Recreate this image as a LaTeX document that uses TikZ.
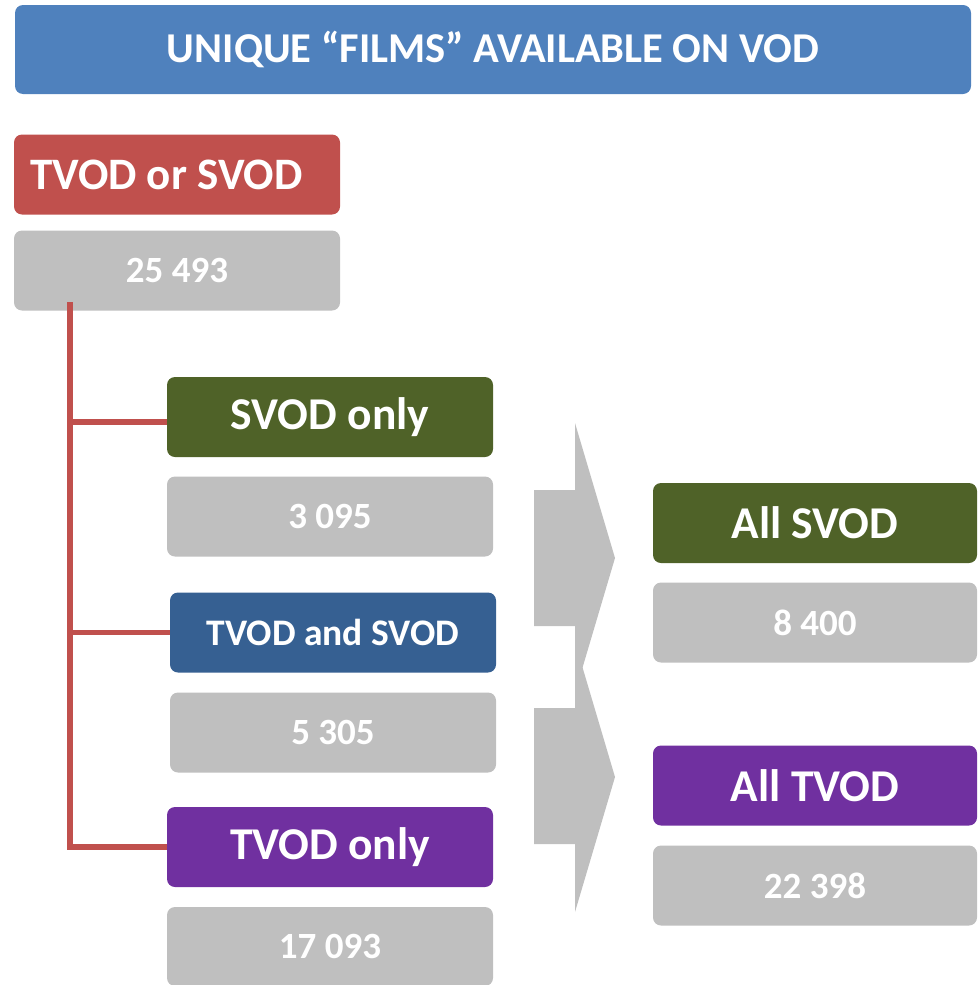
\documentclass[tikz,border=0pt]{standalone}
\usepackage{fontspec}
\setmainfont{Carlito}
\definecolor{titleblue}{HTML}{4F81BD}
\definecolor{boxred}{HTML}{C0504D}
\definecolor{boxgreen}{HTML}{4F6228}
\definecolor{boxblue}{HTML}{366092}
\definecolor{boxpurple}{HTML}{7030A0}
\definecolor{boxgray}{HTML}{BFBFBF}
\tikzset{
  box/.style={rounded corners=8pt, inner sep=0pt, minimum width=326pt, minimum height=80pt, text=white, font=\bfseries},
  numbox/.style={box, fill=boxgray, font=\bfseries\fontsize{37}{44}\selectfont},
  bigtxt/.style={font=\bfseries\fontsize{45.5}{54}\selectfont},
  redline/.style={draw=boxred, line width=5.5pt},
  arrowshape/.style={fill=boxgray}
}
\begin{document}
\begin{tikzpicture}[x=1pt,y=-1pt]
\useasboundingbox (0,0) rectangle (977,985);
% title
\node[box, fill=titleblue, minimum width=956pt, minimum height=89pt, font=\bfseries\fontsize{42.5}{50}\selectfont] (title) at (493,49.5) {UNIQUE “FILMS” AVAILABLE ON VOD};
% left column
\node[box, fill=boxred, font=\bfseries\fontsize{45}{54}\selectfont, text width=294pt, inner xsep=16pt, align=flush left] (any) at (177,174.5) {TVOD or SVOD};
\node[numbox] (anyn) at (177,270.5) {25 493};
\node[box, fill=boxgreen, bigtxt] (svodonly) at (330,417) {SVOD only};
\node[numbox] (svodonlyn) at (330,516.5) {3 095};
\node[box, fill=boxblue, font=\bfseries\fontsize{37.5}{44}\selectfont] (both) at (333,632.5) {TVOD and SVOD};
\node[numbox] (bothn) at (333,732.5) {5 305};
\node[box, fill=boxpurple, bigtxt] (tvodonly) at (330,847) {TVOD only};
\node[numbox, minimum height=79pt] (tvodonlyn) at (330,946.5) {17 093};
% right column
\node[box, fill=boxgreen, bigtxt, minimum width=324pt] (allsvod) at (815,523) {All SVOD};
\node[numbox, minimum width=324pt] (allsvodn) at (815,622.5) {8 400};
\node[box, fill=boxpurple, bigtxt, minimum width=324pt] (alltvod) at (815,785.5) {All TVOD};
\node[numbox, minimum width=324pt] (alltvodn) at (815,885.5) {22 398};
% tree connector
\coordinate (trunk) at (70,302);
\draw[redline] (trunk) |- ([yshift=-5pt]svodonly.west);
\draw[redline] (trunk) |- (both.west);
\draw[redline] (trunk) |- (tvodonly.west);
% block arrows
\fill[arrowshape] (534,490) -- (575,490) -- (575,423) -- (615,558) -- (575,693) -- (575,626) -- (534,626) -- cycle;
\fill[arrowshape] (534,708) -- (575,708) -- (575,642) -- (615,777) -- (575,912) -- (575,844) -- (534,844) -- cycle;
\end{tikzpicture}
\end{document}
